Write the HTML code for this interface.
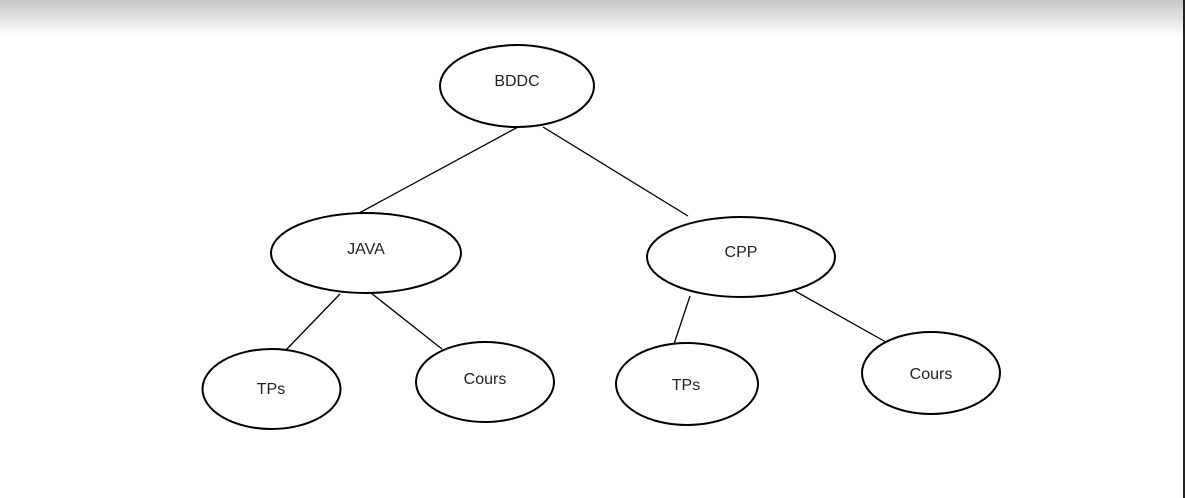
<!DOCTYPE html>
<html><head><meta charset="utf-8"><style>
html,body{margin:0;padding:0;width:1185px;height:498px;overflow:hidden;background:#fff}
.bg{position:absolute;left:0;top:0;width:1185px;height:36px;background:linear-gradient(#c6c6c6,#fff)}
svg{position:absolute;left:0;top:0}
text{font-family:"Liberation Sans",sans-serif;font-size:16px;fill:#222;text-anchor:middle}
</style></head><body>
<div class="bg"></div>
<svg width="1185" height="498" viewBox="0 0 1185 498">
<g stroke="#000" stroke-width="1.3" fill="none">
<line x1="518" y1="127" x2="337" y2="225"/>
<line x1="543" y1="127" x2="688" y2="216"/>
<line x1="340" y1="294" x2="285" y2="351"/>
<line x1="371" y1="293" x2="442" y2="349"/>
<line x1="690" y1="296" x2="673" y2="347"/>
<line x1="795" y1="291" x2="893" y2="346"/>
</g>
<g stroke="#000" stroke-width="2" fill="#fff">
<ellipse cx="517" cy="86" rx="77" ry="41"/>
<ellipse cx="366" cy="253" rx="95" ry="40"/>
<ellipse cx="741" cy="257" rx="94" ry="40"/>
<ellipse cx="271.5" cy="389" rx="69" ry="40"/>
<ellipse cx="485" cy="382" rx="69" ry="40"/>
<ellipse cx="687" cy="384" rx="71" ry="41"/>
<ellipse cx="931" cy="373" rx="69" ry="41"/>
</g>
<text x="517" y="86">BDDC</text>
<text x="366" y="254">JAVA</text>
<text x="741" y="257">CPP</text>
<text x="271" y="394">TPs</text>
<text x="485" y="384">Cours</text>
<text x="686" y="390">TPs</text>
<text x="931" y="379">Cours</text>
<line x1="1184" y1="0" x2="1184" y2="498" stroke="#222" stroke-width="2"/>
</svg>
</body></html>
